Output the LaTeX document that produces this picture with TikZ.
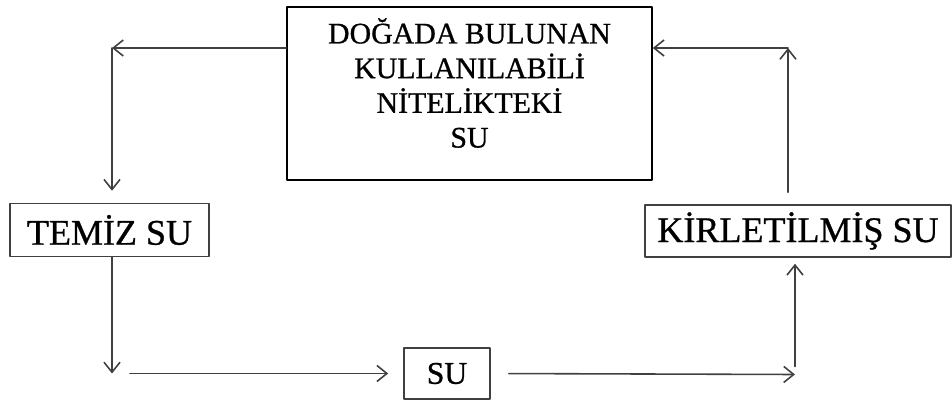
\documentclass[tikz,border=0pt]{standalone}
\usepackage{fontspec}
\setmainfont[FakeBold=0.8]{Liberation Serif}
\usetikzlibrary{arrows.meta}
\tikzset{
  kutu/.style={draw=black!75,line width=0.9pt,inner sep=0pt},
  ok/.style={draw=black!75,line width=0.9pt,-{Straight Barb[length=2mm,width=3.2mm]}},
}
\begin{document}
\begin{tikzpicture}[line cap=round,line join=round]
\useasboundingbox (0,0) rectangle (19.04,8.02);
\path
(2.24,7.06) coordinate (solust)
(15.76,7.06) coordinate (sagust)
(15.90,0.53) coordinate (sagalt)
;
\node[kutu,draw=black,minimum width=7.3cm,minimum height=3.46cm] (kaynak) at (9.39,6.15) {};
\node[align=center,font=\fontsize{17}{19.75}\selectfont] (kaynakyazi) at (9.39,6.36)
  {DOĞADA BULUNAN\\KULLANILABİLİ\\NİTELİKTEKİ\\SU};
\node[kutu,minimum width=3.98cm,minimum height=1.06cm,font=\fontsize{20.5}{23}\selectfont] (temiz) at (2.19,3.42) {TEMİZ SU};
\node[kutu,minimum width=1.72cm,minimum height=1.02cm,font=\fontsize{18}{20}\selectfont] (su) at (8.94,0.55) {SU};
\node[kutu,minimum width=6.12cm,minimum height=1.04cm,font=\fontsize{20.5}{23}\selectfont] (kirli) at (15.96,3.40) {KİRLETİLMİŞ SU};
% dongu
\draw[ok] (kaynak.west |- solust) -- (solust);
\draw[ok,shorten >=0.24cm] (solust) -- (solust |- temiz.north);
\draw[ok] (solust |- temiz.south) -- (solust |- su.west);
\draw[ok,shorten <=0.36cm,shorten >=0.3cm] (solust |- su.west) -- (su.west);
\draw[ok,shorten <=0.36cm] (su.east) -- (sagalt);
\draw[ok,shorten <=0.16cm,shorten >=0.12cm] (sagalt) -- (sagalt |- kirli.south);
\draw[ok,shorten <=0.24cm] (sagust |- kirli.north) -- (sagust);
\draw[ok] (sagust) -- (kaynak.east |- sagust);
\end{tikzpicture}
\end{document}
